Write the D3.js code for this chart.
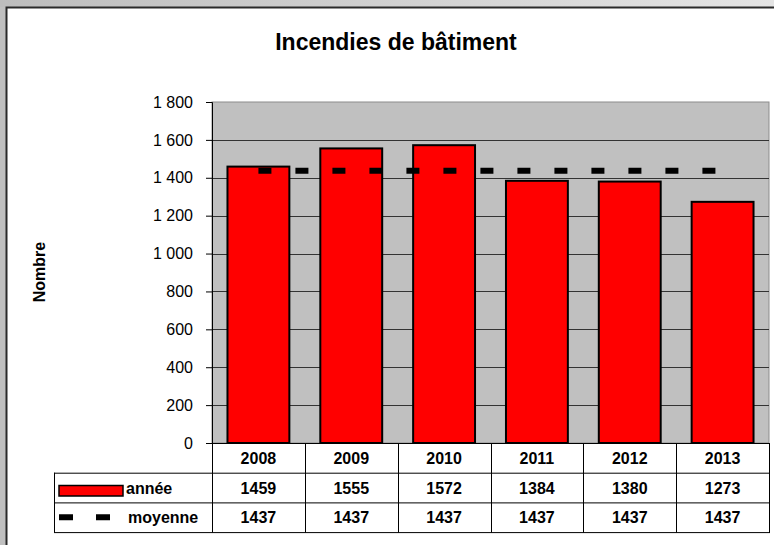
<!DOCTYPE html>
<html lang="fr">
<head>
<meta charset="UTF-8">
<script src="https://d3js.org/d3.v7.min.js"></script>
<style>
  body { margin: 0; background: #c0c0c0; }
  svg { display: block; font-family: "Liberation Sans", Arial, sans-serif; }
</style>
</head>
<body>
<div id="chart"></div>
<script>
// data
const years = ["2008", "2009", "2010", "2011", "2012", "2013"];
const annee = [1459, 1555, 1572, 1384, 1380, 1273];
const moyenne = [1437, 1437, 1437, 1437, 1437, 1437];
const yTicks = [0, 200, 400, 600, 800, 1000, 1200, 1400, 1600, 1800];
const seriesNames = ["année", "moyenne"];

const w = 774, h = 545;
const plotLeft = 212, plotRight = 769, plotTop = 102, plotBottom = 443;
const rowH = 29.7;
const tableLeft = 54;

const svg = d3.select("#chart").append("svg")
  .attr("width", w).attr("height", h);

// frame
const grad = svg.append("defs").append("linearGradient")
  .attr("id", "topgrad").attr("x1", "0%").attr("x2", "100%");
grad.append("stop").attr("offset", "0%").attr("stop-color", "#bdbdbd");
grad.append("stop").attr("offset", "100%").attr("stop-color", "#e4e4e4");
svg.append("rect").attr("x", 0).attr("y", 0).attr("width", w).attr("height", 7)
  .attr("fill", "url(#topgrad)");
svg.append("rect").attr("x", 6).attr("y", 7).attr("width", w - 6).attr("height", h - 7)
  .attr("fill", "#fff");
svg.append("path").attr("d", `M6.5,${h}V7.5H${w}`)
  .attr("fill", "none").attr("stroke", "#2a2a2a").attr("stroke-width", 2);

// title
svg.append("text").attr("x", 396).attr("y", 50)
  .attr("text-anchor", "middle").attr("font-weight", "bold").attr("font-size", 23)
  .text("Incendies de bâtiment");

// scales
const yScale = d3.scaleLinear().domain([0, 1800]).range([plotBottom, plotTop]);
const colScale = d3.scaleBand().domain(years).range([plotLeft, plotRight]);
const barScale = d3.scaleBand().domain(years).range([plotLeft, plotRight])
  .paddingInner(1 / 3).paddingOuter(1 / 6);

// plot area
svg.append("rect").attr("x", plotLeft).attr("y", plotTop)
  .attr("width", plotRight - plotLeft).attr("height", plotBottom - plotTop)
  .attr("fill", "#c0c0c0").attr("stroke", "#8c8c8c").attr("stroke-width", 1);

svg.append("g").selectAll("line")
  .data(yTicks.filter(t => t > 0 && t < 1800))
  .join("line")
  .attr("x1", plotLeft).attr("x2", plotRight)
  .attr("y1", d => Math.round(yScale(d)) + 0.5).attr("y2", d => Math.round(yScale(d)) + 0.5)
  .attr("stroke", "#333").attr("stroke-width", 1);

// bars
svg.append("g").selectAll("rect")
  .data(years)
  .join("rect")
  .attr("x", d => barScale(d))
  .attr("y", (d, i) => yScale(annee[i]))
  .attr("width", barScale.bandwidth())
  .attr("height", (d, i) => plotBottom - yScale(annee[i]))
  .attr("fill", "#ff0000").attr("stroke", "#000").attr("stroke-width", 2);

// mean line
const meanLine = d3.line()
  .x((d, i) => colScale(years[i]) + colScale.bandwidth() / 2)
  .y(d => yScale(d));
svg.append("path").datum(moyenne)
  .attr("d", meanLine)
  .attr("fill", "none").attr("stroke", "#000").attr("stroke-width", 6)
  .attr("stroke-dasharray", "13,24");

// y axis
const fmt = d3.formatLocale({ decimal: ",", thousands: " ", grouping: [3], currency: ["", "€"] }).format(",d");
const yAxis = d3.axisLeft(yScale).tickValues(yTicks).tickFormat(fmt).tickSize(6).tickPadding(13);
const yg = svg.append("g").attr("transform", `translate(${plotLeft},0)`).call(yAxis);
yg.select(".domain").attr("stroke", "#000");
yg.selectAll(".tick line").attr("stroke", "#000");
yg.selectAll("text").attr("font-size", 16).attr("fill", "#000")
  .attr("font-family", "Liberation Sans, Arial, sans-serif");

svg.append("text")
  .attr("transform", "translate(45,272) rotate(-90)")
  .attr("text-anchor", "middle").attr("font-weight", "bold").attr("font-size", 16)
  .text("Nombre");

// data table
const tb = svg.append("g").attr("stroke", "#000").attr("stroke-width", 1).attr("fill", "none");
const r0 = plotBottom, r1 = plotBottom + rowH, r2 = plotBottom + 2 * rowH, r3 = plotBottom + 3 * rowH;
tb.append("path").attr("d",
  `M${tableLeft},${r1 + 0.5}H${plotRight}` +
  `M${tableLeft},${r2 + 0.5}H${plotRight}` +
  `M${tableLeft},${r3 + 0.5}H${plotRight}` +
  `M${tableLeft + 0.5},${r1}V${r3 + 0.5}` +
  `M${plotRight + 0.5},${r0}V${r3 + 1}`);
tb.selectAll("line.col")
  .data(years)
  .join("line")
  .attr("x1", d => Math.round(colScale(d)) + 0.5).attr("x2", d => Math.round(colScale(d)) + 0.5)
  .attr("y1", r0).attr("y2", r3 + 0.5);
svg.append("line").attr("x1", plotLeft).attr("x2", plotRight + 1)
  .attr("y1", plotBottom + 0.5).attr("y2", plotBottom + 0.5).attr("stroke", "#000");

const rows = [years, annee, moyenne];
rows.forEach((row, ri) => {
  svg.append("g").selectAll("text")
    .data(row)
    .join("text")
    .attr("x", (d, i) => colScale(years[i]) + colScale.bandwidth() / 2)
    .attr("y", plotBottom + ri * rowH + rowH / 2 + 6)
    .attr("text-anchor", "middle").attr("font-weight", "bold").attr("font-size", 16)
    .text(d => d);
});

// legend keys in table
svg.append("rect").attr("x", 59).attr("y", 485.5).attr("width", 64).attr("height", 10.5)
  .attr("fill", "#ff0000").attr("stroke", "#000").attr("stroke-width", 1.5);
svg.append("path").attr("d", `M59,${r2 + rowH / 2}H110`)
  .attr("stroke", "#000").attr("stroke-width", 6).attr("stroke-dasharray", "14,23");
svg.append("g").selectAll("text")
  .data(seriesNames)
  .join("text")
  .attr("x", (d, i) => i === 0 ? 126 : 128)
  .attr("y", (d, i) => plotBottom + (i + 1) * rowH + rowH / 2 + 6)
  .attr("font-weight", "bold").attr("font-size", 16)
  .text(d => d);
</script>
</body>
</html>
